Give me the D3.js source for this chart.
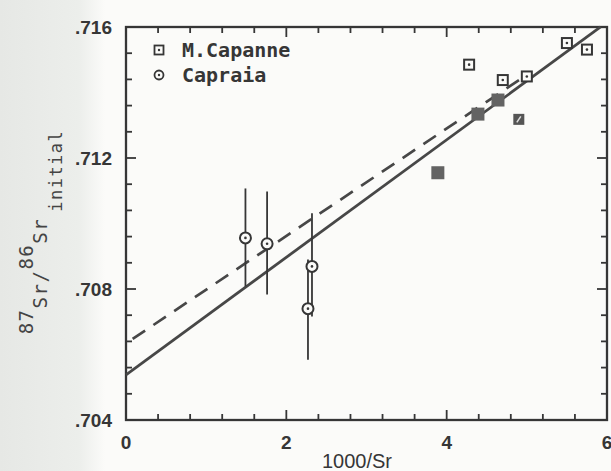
<!DOCTYPE html>
<html><head><meta charset="utf-8">
<script src="https://cdn.jsdelivr.net/npm/d3@7"></script>
<style>body{margin:0;background:#fbfbf9;}svg{display:block}</style>
</head><body>
<script>
// ---- data ----
const capraiaX  = [1.49, 1.76, 2.32, 2.27];
const capraiaY  = [0.70956, 0.70938, 0.70869, 0.70740];
const capraiaLo = [0.70808, 0.70783, 0.70716, 0.70584];
const capraiaHi = [0.71107, 0.71098, 0.71031, 0.70890];

const capanneOpenX = [4.28, 4.70, 5.00, 5.50, 5.75];
const capanneOpenY = [0.71485, 0.71438, 0.71449, 0.71551, 0.71531];
const capanneFilledX = [3.89, 4.39, 4.64];
const capanneFilledY = [0.71155, 0.71334, 0.71377];
const capanneSlashX = [4.90];
const capanneSlashY = [0.71318];

const solidLine  = {x: [0, 5.92], intercept: 0.70538, slope: 0.001794};
const dashedLine = {x: [0, 5.0],  intercept: 0.70634, slope: 0.00164};

const xTickLabels = [0, 2, 4, 6];
const yTickLabels = [0.704, 0.708, 0.712, 0.716];
const legendLabels = ["M.Capanne", "Capraia"];

// ---- chart ----
const W = 611, H = 471;
const ink = "#363636";
const svg = d3.select("body").append("svg").attr("width", W).attr("height", H);
const defs = svg.append("defs");
const grad = defs.append("linearGradient").attr("id", "lg").attr("x1", 0).attr("x2", 1);
grad.append("stop").attr("offset", 0).attr("stop-color", "#e6e8e5");
grad.append("stop").attr("offset", 0.75).attr("stop-color", "#eceeeb");
grad.append("stop").attr("offset", 1).attr("stop-color", "#fbfbf9");
svg.append("rect").attr("width", W).attr("height", H).attr("fill", "#fbfbf9");
svg.append("rect").attr("width", 105).attr("height", H).attr("fill", "url(#lg)");

const x = d3.scaleLinear().domain([0, 6]).range([126, 607]);
const y = d3.scaleLinear().domain([0.704, 0.716]).range([420, 27]);

const minorX = d3.range(0, 6.001, 0.4);
const minorY = d3.range(0, 16).map(i => 0.704 + i * 0.0008);
const isMajX = v => Math.abs(v / 2 - Math.round(v / 2)) < 1e-6;
const isMajY = v => Math.abs((v - 0.704) / 0.004 - Math.round((v - 0.704) / 0.004)) < 1e-6;

const axes = svg.append("g").attr("stroke", ink).attr("fill", "none");
axes.append("rect").attr("x", x(0)).attr("y", y(0.716))
  .attr("width", x(6) - x(0)).attr("height", y(0.704) - y(0.716)).attr("stroke-width", 2.3);
minorX.forEach(v => {
  const L = isMajX(v) ? 10 : 6;
  axes.append("line").attr("x1", x(v)).attr("x2", x(v)).attr("y1", y(0.704)).attr("y2", y(0.704) - L).attr("stroke-width", 1.8);
  axes.append("line").attr("x1", x(v)).attr("x2", x(v)).attr("y1", y(0.716)).attr("y2", y(0.716) + L).attr("stroke-width", 1.8);
});
minorY.forEach(v => {
  const L = isMajY(v) ? 10 : 6;
  axes.append("line").attr("y1", y(v)).attr("y2", y(v)).attr("x1", x(0)).attr("x2", x(0) + L).attr("stroke-width", 1.8);
  axes.append("line").attr("y1", y(v)).attr("y2", y(v)).attr("x1", x(6)).attr("x2", x(6) - L).attr("stroke-width", 1.8);
});

// tick labels
svg.append("g").selectAll("text").data(yTickLabels).join("text")
  .attr("x", 112).attr("y", d => y(d)).attr("dy", "0.36em")
  .attr("text-anchor", "end").attr("font-family", "Liberation Sans, Arial, sans-serif")
  .attr("font-weight", "bold").attr("font-size", 19).attr("fill", ink)
  .text(d => d3.format(".3f")(d).replace(/^0/, ""));
svg.append("g").selectAll("text").data(xTickLabels).join("text")
  .attr("x", d => x(d)).attr("y", 449)
  .attr("text-anchor", "middle").attr("font-family", "Liberation Sans, Arial, sans-serif")
  .attr("font-weight", "bold").attr("font-size", 19).attr("fill", ink)
  .text(d => d);
svg.append("text").attr("x", 357).attr("y", 468).attr("text-anchor", "middle")
  .attr("font-family", "Liberation Sans, Arial, sans-serif").attr("font-size", 20).attr("fill", ink)
  .text("1000/Sr");

// y label
const yl = svg.append("text").attr("transform", "translate(47,232) rotate(-90)")
  .attr("text-anchor", "middle").attr("font-family", "DejaVu Sans Mono, monospace")
  .attr("font-size", 19).attr("letter-spacing", 1.5).attr("fill", "#444");
yl.append("tspan").attr("dy", -14).text("87");
yl.append("tspan").attr("dy", 14).text("Sr/");
yl.append("tspan").attr("dy", -14).text("86");
yl.append("tspan").attr("dy", 14).text("Sr");
yl.append("tspan").attr("font-size", 17).attr("dy", 15).attr("dx", 6).text("initial");

// regression lines
const line = d3.line().x(d => x(d[0])).y(d => y(d[1]));
svg.append("path").attr("d", line(dashedLine.x.map(v => [v, dashedLine.intercept + dashedLine.slope * v])))
  .attr("stroke", "#474747").attr("stroke-width", 2.7).attr("fill", "none")
  .attr("stroke-dasharray", "15 10").attr("stroke-dashoffset", -8);
svg.append("path").attr("d", line(solidLine.x.map(v => [v, solidLine.intercept + solidLine.slope * v])))
  .attr("stroke", "#474747").attr("stroke-width", 2.8).attr("fill", "none");

// Capraia error bars & circles
const cap = capraiaX.map((v, i) => ({x: v, y: capraiaY[i], lo: capraiaLo[i], hi: capraiaHi[i]}));
svg.append("g").selectAll("line").data(cap).join("line")
  .attr("x1", d => x(d.x)).attr("x2", d => x(d.x)).attr("y1", d => y(d.lo)).attr("y2", d => y(d.hi))
  .attr("stroke", ink).attr("stroke-width", 1.8);
const cg = svg.append("g").selectAll("g").data(cap).join("g")
  .attr("transform", d => `translate(${x(d.x)},${y(d.y)})`);
cg.append("circle").attr("r", 5.5).attr("fill", "#fbfbf9").attr("stroke", ink).attr("stroke-width", 2);
cg.append("circle").attr("r", 1.3).attr("fill", ink);

// M.Capanne
const filled = capanneFilledX.map((v, i) => ({x: v, y: capanneFilledY[i]}));
svg.append("g").selectAll("rect").data(filled).join("rect")
  .attr("x", d => x(d.x) - 6.5).attr("y", d => y(d.y) - 6.5).attr("width", 13).attr("height", 13)
  .attr("fill", "#636363");
const slash = capanneSlashX.map((v, i) => ({x: v, y: capanneSlashY[i]}));
const sg = svg.append("g").selectAll("g").data(slash).join("g")
  .attr("transform", d => `translate(${x(d.x)},${y(d.y)})`);
sg.append("rect").attr("x", -5.5).attr("y", -5.5).attr("width", 11).attr("height", 11).attr("fill", "#555");
sg.append("line").attr("x1", -2).attr("y1", 3).attr("x2", 2).attr("y2", -3).attr("stroke", "#ddd").attr("stroke-width", 1.5);
const open = capanneOpenX.map((v, i) => ({x: v, y: capanneOpenY[i]}));
const og = svg.append("g").selectAll("g").data(open).join("g")
  .attr("transform", d => `translate(${x(d.x)},${y(d.y)})`);
og.append("rect").attr("x", -5).attr("y", -5).attr("width", 10).attr("height", 10)
  .attr("fill", "#fbfbf9").attr("stroke", ink).attr("stroke-width", 2);
og.append("circle").attr("r", 1.3).attr("fill", ink);

// legend
const lg = svg.append("g");
const rowsY = [50, 75];
legendLabels.forEach((t, i) => {
  const g = lg.append("g").attr("transform", `translate(159,${rowsY[i]})`);
  if (i === 0) {
    g.append("rect").attr("x", -4.5).attr("y", -4.5).attr("width", 9).attr("height", 9)
      .attr("fill", "none").attr("stroke", ink).attr("stroke-width", 1.8);
  } else {
    g.append("circle").attr("r", 4.5).attr("fill", "none").attr("stroke", ink).attr("stroke-width", 1.8);
  }
  g.append("circle").attr("r", 1.2).attr("fill", ink);
  g.append("text").attr("x", 23).attr("dy", "0.36em")
    .attr("font-family", "DejaVu Sans Mono, monospace").attr("font-weight", "bold")
    .attr("font-size", 20).attr("fill", ink).text(t);
});
</script>
</body></html>
